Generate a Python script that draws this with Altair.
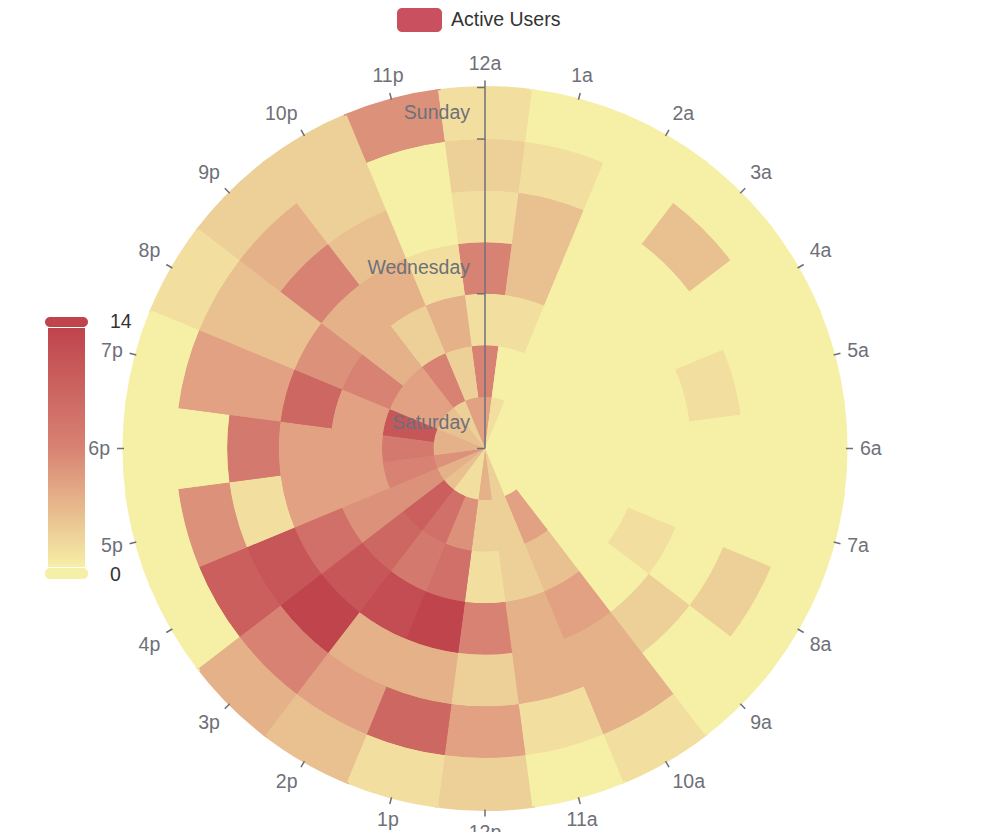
import math
import altair as alt
import pandas as pd

# ---------------- data ----------------
hours = ['12a', '1a', '2a', '3a', '4a', '5a', '6a', '7a', '8a', '9a', '10a', '11a',
         '12p', '1p', '2p', '3p', '4p', '5p', '6p', '7p', '8p', '9p', '10p', '11p']
days = ['Saturday', 'Friday', 'Thursday', 'Wednesday', 'Tuesday', 'Monday', 'Sunday']

saturday = [5, 1, 0, 0, 0, 0, 0, 0, 0, 0, 0, 2, 4, 1, 1, 3, 4, 6, 4, 4, 3, 3, 2, 5]
friday = [7, 0, 0, 0, 0, 0, 0, 0, 0, 0, 5, 2, 2, 6, 9, 11, 6, 7, 8, 12, 5, 5, 7, 2]
thursday = [1, 1, 0, 0, 0, 0, 0, 0, 0, 0, 3, 2, 1, 9, 8, 10, 6, 5, 5, 5, 7, 4, 2, 4]
wednesday = [7, 3, 0, 0, 0, 0, 0, 0, 1, 0, 5, 4, 7, 14, 13, 12, 9, 5, 5, 10, 6, 4, 4, 1]
tuesday = [1, 3, 0, 0, 0, 1, 0, 0, 0, 2, 4, 4, 2, 4, 4, 14, 12, 1, 8, 5, 3, 7, 3, 0]
monday = [2, 1, 0, 3, 0, 0, 0, 0, 2, 0, 4, 1, 5, 10, 5, 7, 11, 6, 0, 5, 3, 4, 2, 0]
sunday = [1, 0, 0, 0, 0, 0, 0, 0, 0, 0, 1, 0, 2, 1, 3, 4, 0, 0, 0, 0, 1, 2, 2, 6]

values_by_day = [saturday, friday, thursday, wednesday, tuesday, monday, sunday]
radial_label_days = ['Saturday', 'Wednesday', 'Sunday']
radial_tick_positions = [0, 3, 6, 7]
value_min, value_max = 0, 14
series_name = 'Active Users'

# ---------------- layout / style ----------------
W, H = 972, 824
CX, CY = 477, 440.5
R = 361
AXIS_COLOR = '#6E7079'
FONT = 'Liberation Sans'
FS = 19.5
COLORS = ['#f6efa6', '#d88273', '#bf444c']
EPS = 0.03  # small overlap of the underlay to hide anti-aliasing seams

rows = []
for d, vals in enumerate(values_by_day):
    for h, v in enumerate(vals):
        rows.append(dict(day=days[d], hour=hours[h], t0=h - 0.5, t1=h + 0.5,
                         r0=d, r1=d + 1, value=v))
cells = pd.DataFrame(rows)

hour_df = pd.DataFrame({'hour': hours, 'idx': list(range(len(hours)))})
hour_df['tk0'] = hour_df['idx'] - 0.008
hour_df['tk1'] = hour_df['idx'] + 0.008
n = len(hours)
aligns, baselines = [], []
for i in range(n):
    ang = 2 * math.pi * i / n
    s, c = math.sin(ang), math.cos(ang)
    aligns.append('center' if abs(s) < 0.3 else ('left' if s > 0 else 'right'))
    baselines.append('middle' if abs(c) < 0.3 else ('bottom' if c > 0 else 'top'))
hour_df['al'] = aligns
hour_df['bl'] = baselines

rtick_df = pd.DataFrame({'b': radial_tick_positions})
rlab_df = pd.DataFrame({'label': radial_label_days,
                        'pos': [days.index(x) + 0.5 for x in radial_label_days]})
raxis_df = pd.DataFrame({'b0': [0], 'b1': [len(days)]})

theta_scale = alt.Scale(domain=[0, 24], range=[0, 2 * math.pi])
radius_scale = alt.Scale(type='linear', domain=[0, len(days)], range=[0, R], zero=True)
y_scale = alt.Scale(domain=[0, len(days)], range=[CY, CY - R])

color_scale = alt.Scale(domain=[value_min, value_max], range=COLORS, interpolate='rgb')
color_legend = alt.Legend(orient='none', legendX=40, legendY=320,
                          direction='vertical', gradientLength=239,
                          gradientThickness=37, title=None,
                          labelOpacity=0, padding=0,
                          gradientStrokeWidth=0,
                          values=[value_min, value_max])

underlay = alt.Chart(cells).transform_calculate(
    u0=f'datum.t0 - {EPS}', u1=f'datum.t1 + {EPS}', ur1=f'datum.r1 + {EPS}'
).mark_arc(strokeWidth=0).encode(
    theta=alt.Theta('u0:Q', scale=theta_scale, stack=None),
    theta2='u1:Q',
    radius=alt.Radius('r0:Q', scale=radius_scale),
    radius2='ur1:Q',
    color=alt.Color('value:Q', scale=color_scale, legend=color_legend),
    x=alt.value(CX), y=alt.value(CY),
)

heat = alt.Chart(cells).mark_arc(strokeWidth=0).encode(
    theta=alt.Theta('t0:Q', scale=theta_scale, stack=None),
    theta2='t1:Q',
    radius=alt.Radius('r0:Q', scale=radius_scale),
    radius2='r1:Q',
    color=alt.Color('value:Q', scale=color_scale, legend=color_legend),
    x=alt.value(CX), y=alt.value(CY),
    tooltip=['day:N', 'hour:N', 'value:Q'],
)

angle_ticks = alt.Chart(hour_df).mark_arc(color=AXIS_COLOR).encode(
    theta=alt.Theta('tk0:Q', scale=theta_scale, stack=None),
    theta2='tk1:Q',
    radius=alt.value(R),
    radius2=alt.value(R + 7),
    x=alt.value(CX), y=alt.value(CY),
)

label_layers = []
for al in ['left', 'center', 'right']:
    for bl in ['top', 'middle', 'bottom']:
        if not ((hour_df['al'] == al) & (hour_df['bl'] == bl)).any():
            continue
        label_layers.append(
            alt.Chart(hour_df).transform_filter(
                (alt.datum.al == al) & (alt.datum.bl == bl)
            ).mark_text(font=FONT, fontSize=FS, color=AXIS_COLOR, align=al, baseline=bl).encode(
                theta=alt.Theta('idx:Q', scale=theta_scale, stack=None),
                radius=alt.value(375),
                text='hour:N',
                x=alt.value(CX), y=alt.value(CY),
            )
        )

radial_line = alt.Chart(raxis_df).mark_rule(color=AXIS_COLOR, strokeWidth=1.5).encode(
    x=alt.value(CX),
    y=alt.Y('b0:Q', scale=y_scale, axis=None),
    y2='b1:Q',
)

radial_ticks = alt.Chart(rtick_df).mark_rule(color=AXIS_COLOR, strokeWidth=1.5).encode(
    x=alt.value(CX - 8), x2=alt.value(CX),
    y=alt.Y('b:Q', scale=y_scale, axis=None),
)

radial_labels = alt.Chart(rlab_df).mark_text(
    font=FONT, fontSize=FS, color=AXIS_COLOR, align='right', baseline='middle'
).encode(
    x=alt.value(CX - 15),
    y=alt.Y('pos:Q', scale=y_scale, axis=None),
    text='label:N',
)

# series legend at the top
legend_df = pd.DataFrame({'name': [series_name]})
legend_icon = alt.Chart(legend_df).mark_rect(color='#c8505f', cornerRadius=5).encode(
    x=alt.value(389), x2=alt.value(434), y=alt.value(0), y2=alt.value(24)
)
legend_text = alt.Chart(legend_df).mark_text(
    font=FONT, fontSize=FS, color='#333333', align='left', baseline='middle'
).encode(x=alt.value(443), y=alt.value(12), text='name:N')

# visual map handles and labels
vm_df = pd.DataFrame({'v': [value_max, value_min], 'label': [str(value_max), str(value_min)],
                      'yy': [314, 567], 'hy0': [309, 560], 'hy1': [319, 571],
                      'hc': [COLORS[-1], COLORS[0]]})
vm_handles = alt.Chart(vm_df).mark_rect(cornerRadius=5).encode(
    x=alt.value(37), x2=alt.value(80),
    y=alt.Y('hy0:Q', scale=alt.Scale(domain=[0, H], range=[0, H]), axis=None),
    y2='hy1:Q',
    fill=alt.Fill('hc:N', scale=None),
)
vm_labels = alt.Chart(vm_df).mark_text(
    font=FONT, fontSize=FS, color='#333333', align='left', baseline='middle'
).encode(
    x=alt.value(102),
    y=alt.Y('yy:Q', scale=alt.Scale(domain=[0, H], range=[0, H]), axis=None),
    text='label:N',
)

chart = alt.layer(
    underlay, heat, angle_ticks, *label_layers, radial_line, radial_ticks, radial_labels,
    legend_icon, legend_text, vm_handles, vm_labels
).resolve_scale(y='independent').properties(
    width=W, height=H, padding=0, autosize='none'
).configure_view(stroke=None)

chart.save('out.html', embed_options={'renderer': 'svg', 'actions': False})
